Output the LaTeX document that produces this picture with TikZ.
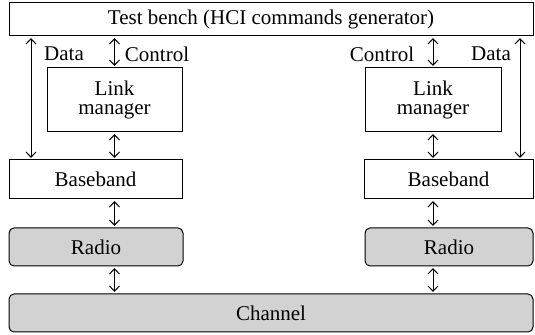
\documentclass[tikz,border=0pt]{standalone}
\usepackage{fontspec}
\setmainfont{Liberation Serif}
\usepackage{tikz}
\usetikzlibrary{arrows.meta, positioning, calc}
\definecolor{radiogray}{HTML}{D2D2D2}

\tikzset{
    block/.style={draw, line width=0.5pt, fill=white, inner sep=1pt},
    shadedblock/.style={block, fill=radiogray, rounded corners=2.5pt},
    twoway/.style={line width=0.5pt, {Straight Barb[length=2.6pt,width=5pt]}-{Straight Barb[length=2.6pt,width=5pt]}, shorten >=0.8pt, shorten <=0.8pt}
}

\begin{document}
\begin{tikzpicture}[x=0.5pt, y=-0.5pt, font=\rmfamily\fontsize{10.5}{9.5}\selectfont]
    \useasboundingbox (0,0) rectangle (535,335);

    % Test bench
    \node[block, minimum width=262pt, minimum height=16.5pt] (bench) at (271,19.5) {Test bench (HCI commands generator)};

    % Left stack
    \node[block, minimum width=67.5pt, minimum height=32pt, align=center] (lmL) at (114.5,100) {Link\\manager};
    \node[block, minimum width=86.5pt, minimum height=19.5pt] (bbL) at (95.5,179.5) {Baseband};
    \node[shadedblock, minimum width=87pt, minimum height=19pt] (radioL) at (96,247) {Radio};

    % Right stack
    \node[block, minimum width=68pt, minimum height=32pt, align=center] (lmR) at (433,100) {Link\\manager};
    \node[block, minimum width=84.5pt, minimum height=19.5pt] (bbR) at (448.5,179.5) {Baseband};
    \node[shadedblock, minimum width=84pt, minimum height=19pt] (radioR) at (449,247) {Radio};

    % Channel
    \node[shadedblock, minimum width=262pt, minimum height=19pt] (channel) at (271,313) {Channel};

    % Data paths
    \coordinate (dataL) at (31,0);
    \coordinate (dataR) at (520,0);
    \draw[twoway] (bench.south -| dataL) -- (bbL.north -| dataL);
    \draw[twoway] (bench.south -| dataR) -- (bbR.north -| dataR);

    % Control and lower links, left
    \draw[twoway] (bench.south -| lmL) -- (lmL.north);
    \draw[twoway] (lmL.south) -- (lmL.south |- bbL.north);
    \draw[twoway] (bbL.south -| lmL) -- (radioL.north -| lmL);
    \draw[twoway] (radioL.south -| lmL) -- (channel.north -| lmL);

    % Control and lower links, right
    \draw[twoway] (bench.south -| lmR) -- (lmR.north);
    \draw[twoway] (lmR.south) -- (lmR.south |- bbR.north);
    \draw[twoway] (bbR.south -| lmR) -- (radioR.north -| lmR);
    \draw[twoway] (radioR.south -| lmR) -- (channel.north -| lmR);

    % Labels
    \node (dataLbl) at (64,54) {Data};
    \node (ctrlLbl) at (157,54) {Control};
    \node (ctrlRbl) at (382,54) {Control};
    \node (dataRbl) at (491,54) {Data};
\end{tikzpicture}
\end{document}
